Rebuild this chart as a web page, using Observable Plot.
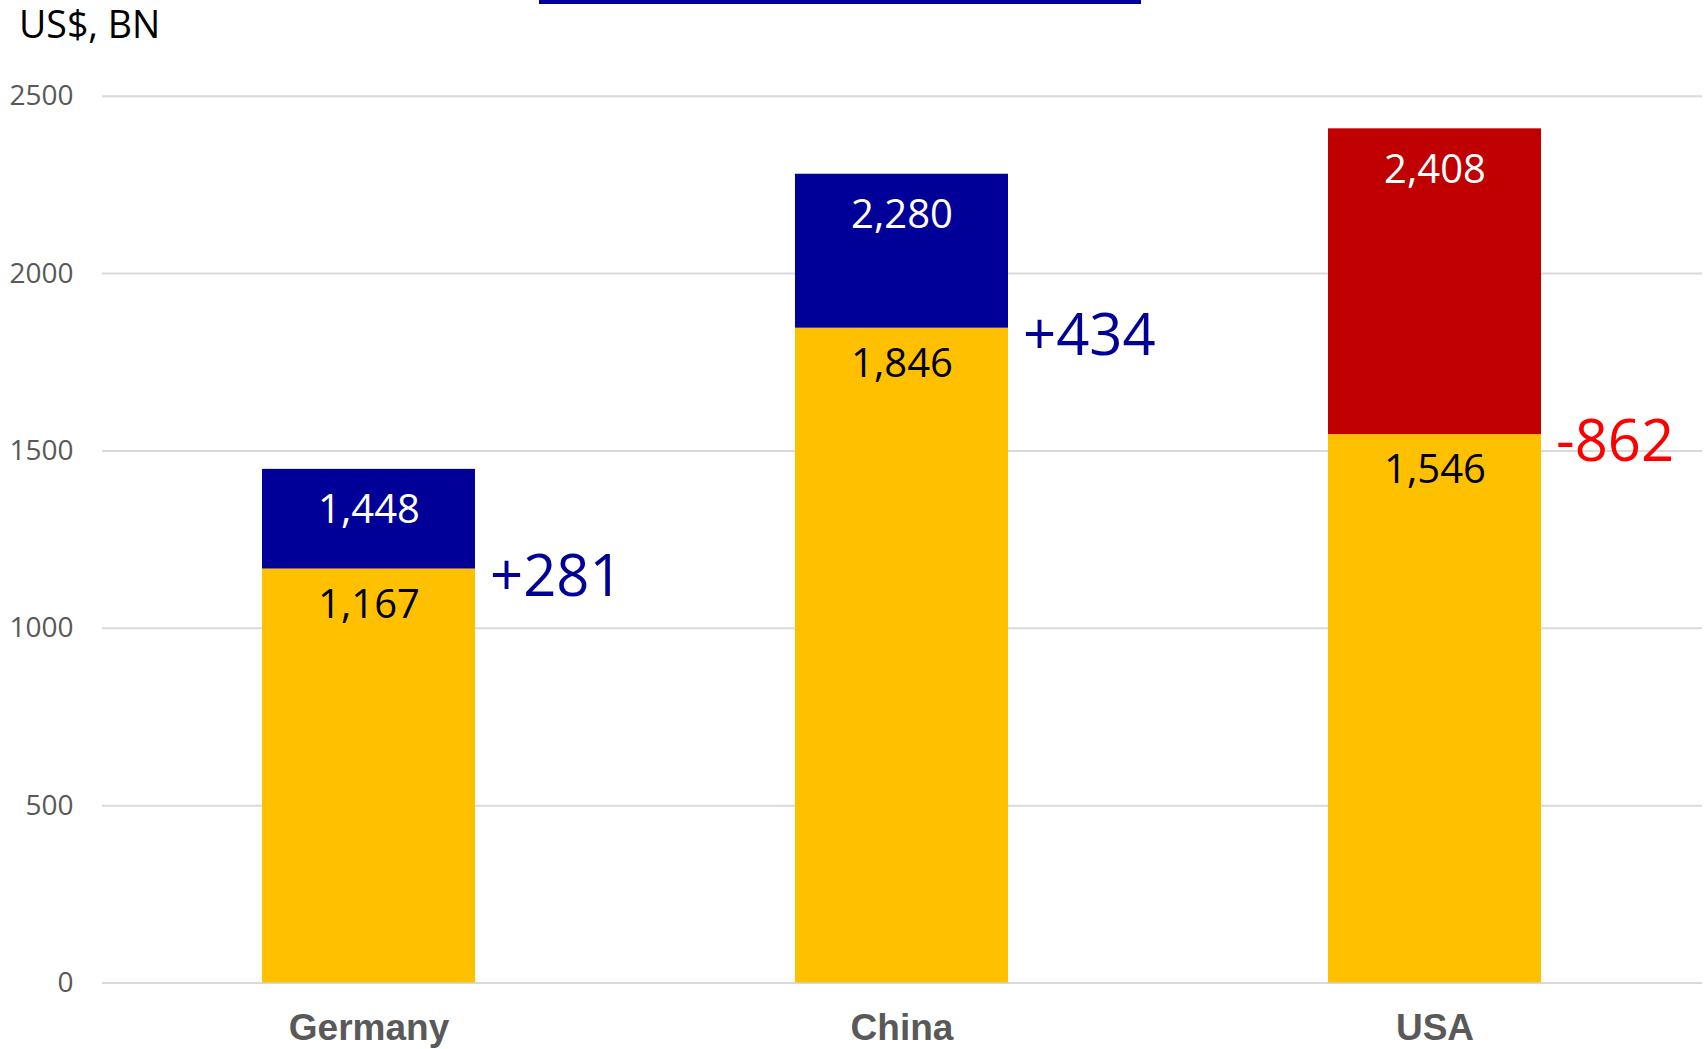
<!DOCTYPE html>
<html>
<head>
<meta charset="utf-8">
<script src="https://cdn.jsdelivr.net/npm/d3@7"></script>
<script src="https://cdn.jsdelivr.net/npm/@observablehq/plot@0.6"></script>
<style>
  html, body { margin: 0; padding: 0; background: #fff; }
  #wrap { position: relative; width: 1706px; }
  #header { position: relative; height: 60px; }
  #title { position: absolute; left: 19px; top: 1px; font-family: "Open Sans", sans-serif; font-size: 37.5px; color: #000; line-height: 46px; }
  #topbar { position: absolute; left: 539px; top: 0; width: 602px; height: 4px; background: #000099; }
  svg { display: block; }
</style>
</head>
<body>
<div id="wrap">
  <div id="header"><div id="topbar"></div><div id="title">US$, BN</div></div>
  <div id="chart"></div>
</div>
<script>
const countries = ["Germany", "China", "USA"];
const baseValues = [1167, 1846, 1546];
const totalValues = [1448, 2280, 2408];
const changeValues = [281, 434, -862];
const yTicks = [0, 500, 1000, 1500, 2000, 2500];

const rows = countries.map((c, i) => ({
  country: c,
  base: baseValues[i],
  total: totalValues[i],
  change: changeValues[i]
}));

const fmt = d3.format(",");
const font = "'Open Sans', sans-serif";

const chart = Plot.plot({
  width: 1706,
  height: 989,
  marginLeft: 102,
  marginRight: 4,
  marginTop: 35.7,
  marginBottom: 66.5,
  style: { fontFamily: font, background: "#fff", overflow: "visible" },
  x: { domain: countries, paddingInner: 0.6, paddingOuter: 0.3, label: null },
  y: { domain: [0, 2500], label: null },
  marks: [
    Plot.gridY(yTicks, { stroke: "#d9d9d9", strokeOpacity: 1, strokeWidth: 2 }),
    Plot.axisY({ ticks: yTicks, tickSize: 0, tickPadding: 29, tickFormat: d => String(d), fontSize: 28, fill: "#595959", label: null, fontFamily: font }),
    Plot.axisX({ tickSize: 0, tickPadding: 31, fontSize: 37, fontWeight: "bold", fill: "#595959", label: null, fontFamily: "'Liberation Sans', Arial, sans-serif" }),
    Plot.barY(rows, { x: "country", y1: 0, y2: "base", fill: "#FFC000" }),
    Plot.barY(rows, { x: "country", y1: "base", y2: "total", fill: d => d.change >= 0 ? "#000099" : "#C00000" }),
    Plot.text(rows, { x: "country", y: "total", text: d => fmt(d.total), dy: 41, fill: "#fff", fontSize: 40, fontFamily: font }),
    Plot.text(rows, { x: "country", y: "base", text: d => fmt(d.base), dy: 36, fill: "#000", fontSize: 40, fontFamily: font }),
    Plot.text(rows, { x: "country", y: "base", text: d => (d.change >= 0 ? "+" : "-") + Math.abs(d.change), dx: 121, dy: 8, textAnchor: "start", fill: d => d.change >= 0 ? "#000099" : "#FF0000", fontSize: 58, fontWeight: 500, fontFamily: font })
  ]
});
document.getElementById("chart").appendChild(chart);
</script>
</body>
</html>
